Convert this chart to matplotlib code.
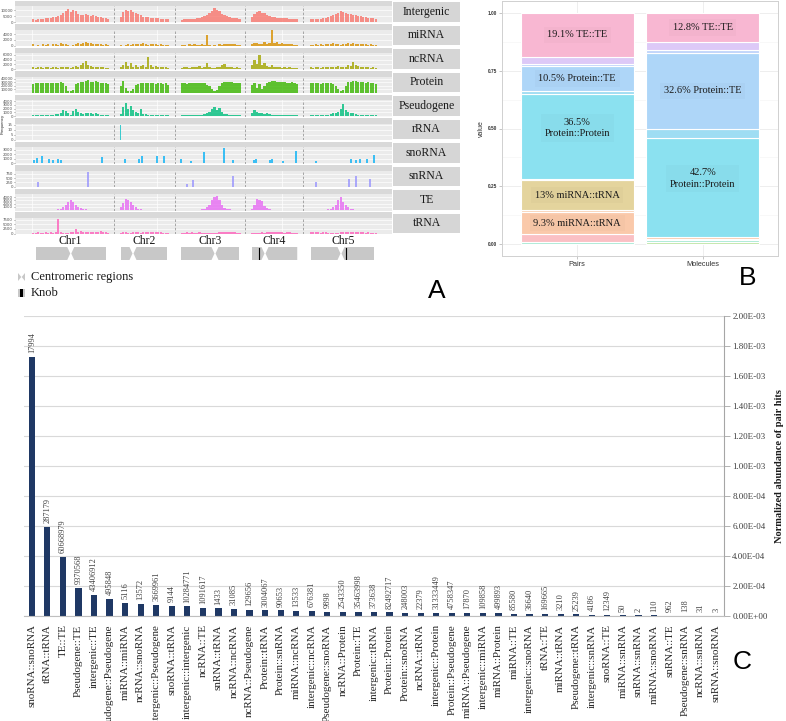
import matplotlib
matplotlib.use("Agg")
import matplotlib.pyplot as plt
from matplotlib.patches import Polygon, Rectangle
import numpy as np

W, H = 786, 721
SERIF = "Liberation Serif"
SANS = "Liberation Sans"

# ---------------- panel A data (1 Mb bins per chromosome) ----------------
chrom_names = ["Chr1", "Chr2", "Chr3", "Chr4", "Chr5"]
chrom_len = [30.4, 19.7, 23.5, 18.6, 27.0]
chrom_offset = [0, 35, 59.5, 87.5, 111]

intergenic = [
    [2200, 2000, 2400, 2600, 2500, 3000, 3200, 3500, 3800, 4500, 5000, 6000, 7500, 9500, 11000, 8500,
     10500, 9000, 7000, 6000, 5500, 6500, 6000, 5000, 5500, 5000, 4500, 4000, 3500, 3000, 2800],
    [4500, 8500, 10500, 9000, 10000, 8500, 7500, 6500, 5500, 4500, 4000, 3800, 3500, 3200, 3000, 3200,
     2800, 2600, 2500, 2200],
    [2000, 2200, 2500, 2400, 2600, 2800, 3000, 3500, 4000, 5000, 6000, 7500, 9000, 11500, 10500, 9500,
     7000, 6000, 5000, 4000, 3500, 3200, 3000, 2500],
    [4000, 6500, 8500, 9500, 8000, 7500, 6000, 5000, 4500, 4000, 3500, 3500, 3200, 3000, 3000, 2800,
     2600, 2500, 2200],
    [2500, 2200, 2500, 2800, 2600, 3000, 3500, 4000, 5000, 6000, 7000, 8000, 9500, 8500, 8000, 7000,
     6500, 6000, 5500, 5000, 5000, 4500, 4000, 3500, 3200, 3000, 2800],
]
mirna = [
    [600, 0, 300, 0, 400, 300, 500, 0, 400, 600, 300, 900, 500, 700, 200, 0, 300, 400, 800, 600, 900,
     1200, 800, 900, 600, 700, 400, 500, 300, 400, 200],
    [300, 0, 200, 600, 300, 500, 700, 400, 600, 800, 500, 300, 600, 400, 500, 300, 400, 200, 300, 200],
    [300, 200, 0, 400, 300, 500, 300, 200, 400, 300, 3800, 300, 0, 200, 0, 400, 300, 500, 700, 400, 600,
     500, 300, 200],
    [600, 800, 1000, 500, 700, 1200, 600, 900, 5500, 800, 1200, 700, 900, 600, 700, 500, 400, 300, 200],
    [300, 200, 400, 300, 500, 300, 400, 700, 500, 900, 600, 400, 300, 500, 700, 900, 600, 800, 700, 500,
     600, 400, 500, 300, 400, 300, 200],
]
ncrna = [
    [700, 600, 800, 700, 600, 700, 800, 600, 700, 800, 600, 700, 900, 800, 700, 600, 700, 1200, 900, 1500,
     2500, 3500, 1500, 1200, 800, 700, 900, 800, 700, 600, 500],
    [800, 1500, 3000, 1200, 2500, 900, 1500, 800, 1200, 1800, 1000, 5200, 1500, 900, 1200, 800, 1000, 800,
     700, 600],
    [600, 700, 800, 600, 1000, 700, 800, 1200, 600, 700, 2600, 800, 600, 500, 700, 800, 1500, 2000, 900,
     800, 700, 600, 700, 500],
    [1500, 3800, 2000, 6000, 1500, 2500, 1200, 900, 1500, 800, 700, 800, 600, 700, 600, 700, 600, 500, 600],
    [700, 600, 800, 700, 600, 900, 700, 800, 1000, 900, 800, 1200, 900, 800, 1000, 1500, 1200, 3000, 1800,
     1200, 900, 800, 700, 800, 600, 700, 500],
]
protein = [
    [25000, 26000, 27000, 26000, 27000, 26500, 28000, 27000, 26000, 27000, 28000, 29000, 26000, 18000, 5000,
     3000, 7000, 24000, 28000, 30000, 29000, 32000, 35000, 31000, 30000, 32000, 29000, 28000, 27000, 26000,
     25000],
    [18000, 33000, 14000, 5000, 3000, 9000, 22000, 25000, 27000, 26000, 28000, 27000, 26000, 27000, 25000,
     26000, 27000, 25000, 26000, 23000],
    [26000, 27000, 25000, 27000, 26000, 28000, 27000, 26000, 27000, 26000, 23000, 18000, 9000, 4000, 7000,
     18000, 27000, 29000, 31000, 30000, 29000, 27000, 28000, 26000],
    [22000, 27000, 12000, 24000, 9000, 18000, 27000, 31000, 33000, 32000, 30000, 29000, 31000, 30000, 28000,
     27000, 29000, 27000, 25000],
    [26000, 27000, 26000, 27000, 25000, 27000, 28000, 26000, 27000, 24000, 18000, 9000, 4000, 6000, 18000,
     29000, 31000, 33000, 32000, 30000, 31000, 29000, 28000, 29000, 27000, 26000, 24000],
]
pseudogene = [
    [200, 250, 300, 250, 300, 350, 300, 400, 350, 500, 600, 900, 1500, 1300, 700, 400, 1300, 1800, 1200,
     900, 600, 800, 900, 700, 600, 900, 500, 400, 350, 300, 250],
    [600, 2500, 3500, 2000, 2800, 1500, 1200, 800, 1800, 600, 500, 400, 400, 350, 300, 300, 250, 300, 250,
     200],
    [200, 250, 250, 300, 250, 300, 350, 300, 400, 500, 900, 1200, 1800, 2500, 1600, 2200, 1200, 600, 500,
     400, 350, 300, 250, 200],
    [900, 1500, 1200, 900, 700, 600, 800, 500, 400, 400, 350, 300, 300, 250, 300, 250, 200, 250, 200],
    [250, 200, 250, 300, 250, 300, 350, 400, 500, 700, 900, 1200, 2000, 3200, 1500, 1200, 900, 700, 500,
     400, 350, 300, 300, 250, 250, 200, 200],
]
te = [
    [50, 50, 50, 50, 50, 80, 80, 100, 100, 150, 200, 400, 800, 1500, 2500, 3200, 2600, 1500, 900, 500, 300,
     200, 150, 100, 100, 80, 80, 50, 50, 50, 50],
    [800, 2200, 3500, 3000, 2500, 1500, 800, 400, 200, 150, 100, 100, 80, 80, 50, 50, 50, 50, 50, 50],
    [50, 50, 50, 80, 80, 100, 100, 150, 200, 400, 800, 1500, 3000, 4000, 4500, 3000, 1500, 600, 300, 200,
     100, 80, 50, 50],
    [400, 1500, 3500, 3000, 2800, 1200, 600, 300, 150, 100, 100, 80, 80, 50, 50, 50, 50, 50, 50],
    [50, 50, 50, 80, 80, 100, 150, 200, 400, 800, 1500, 3000, 4000, 2500, 1500, 800, 400, 200, 150, 100, 80,
     50, 50, 50, 50, 50, 50],
]
trna = [
    [500, 300, 600, 400, 500, 700, 400, 600, 500, 800, 8000, 600, 500, 400, 300, 900, 700, 2500, 800, 1200,
     900, 700, 1000, 800, 1100, 900, 600, 1200, 800, 700, 500],
    [400, 800, 600, 300, 500, 600, 700, 900, 500, 600, 800, 700, 600, 1000, 700, 900, 600, 500, 400, 300],
    [500, 400, 600, 500, 700, 400, 500, 600, 400, 300, 500, 300, 200, 300, 500, 600, 900, 700, 800, 1100,
     600, 700, 500, 400],
    [300, 500, 300, 400, 600, 500, 900, 700, 1100, 800, 600, 700, 900, 500, 600, 700, 500, 400, 300],
    [900, 700, 800, 600, 500, 900, 600, 400, 300, 200, 300, 400, 600, 800, 1000, 700, 900, 600, 1100, 800,
     700, 600, 500, 800, 400, 300, 200],
]
# sparse tracks: (chromosome index, position Mb, count)
rrna_spikes = [(1, 0.3, 15)]
snorna_spikes = [(0, 0.8, 700), (0, 2.0, 1100), (0, 4.0, 1500), (0, 6.8, 900), (0, 8.4, 700),
                 (0, 10.4, 900), (0, 11.6, 600), (0, 28.0, 1300),
                 (1, 2.2, 900), (1, 7.8, 1000), (1, 9.0, 1500), (1, 15.0, 1600), (1, 17.8, 1500),
                 (2, 0.1, 1000), (2, 4.1, 400), (2, 9.3, 2400), (2, 17.3, 3300), (2, 20.9, 600),
                 (3, 1.3, 600), (3, 2.1, 900), (3, 7.7, 700), (3, 8.5, 1000), (3, 12.9, 500), (3, 18.1, 2700),
                 (4, 2.6, 400), (4, 16.6, 800), (4, 18.6, 600), (4, 20.2, 1000), (4, 23.0, 900), (4, 25.8, 1700)]
snrna_spikes = [(0, 2.4, 270), (0, 22.4, 880),
                (2, 2.5, 160), (2, 4.9, 380), (2, 20.9, 650),
                (4, 2.6, 270), (4, 15.8, 430), (4, 18.6, 650), (4, 24.2, 430)]

track_names = ["Intergenic", "miRNA", "ncRNA", "Protein", "Pseudogene", "rRNA", "snoRNA", "snRNA", "TE", "tRNA"]
track_data = [intergenic, mirna, ncrna, protein, pseudogene, rrna_spikes, snorna_spikes, snrna_spikes, te, trna]
track_colors = ["#F8766D", "#D89000", "#A3A500", "#39B600", "#00BF7D", "#00BFC4", "#00B0F6", "#9590FF",
                "#E76BF3", "#FF62BC"]
track_top = [13500, 5800, 6800, 46000, 4300, 16.5, 3600, 950, 5000, 8800]
track_ticks = [[0, 5000, 10000], [0, 2000, 4000], [0, 2000, 4000, 6000], [10000, 20000, 30000, 40000],
               [0, 1000, 2000, 3000, 4000], [0, 5, 10, 15], [0, 1000, 2000, 3000], [0, 250, 500, 750],
               [1000, 2000, 3000, 4000], [0, 2500, 5000, 7500]]

ideo_start = [1.6, 0.6, 0.1, 0.5, 0.6]
ideo_end = [29.6, 19.0, 23.3, 18.6, 25.8]
centromere = [15.5, 5.4, 13.7, 5.7, 12.6]
knob = [None, None, None, 3.3, 14.6]

# ---------------- panel B data ----------------
b_groups = ["Pairs", "Molecules"]
b_colors = ["#BCE5A3", "#A5E8D3", "#FAC0C4", "#FAC9AA", "#F9D2B5", "#E4D49D", "#D9E3A8", "#8BE1F0",
            "#9EDDF3", "#AED6F8", "#C0D4FA", "#DDC9F7", "#F8B7D2"]
b_pairs = [0.003, 0.007, 0.035, 0.093, 0.010, 0.130, 0.004, 0.365, 0.016, 0.105, 0.010, 0.031, 0.191]
b_molecules = [0.012, 0.008, 0.005, 0.006, 0.002, 0.0, 0.0, 0.427, 0.040, 0.326, 0.014, 0.032, 0.128]
b_pairs_labels = ["", "", "", "9.3% miRNA::tRNA", "", "13% miRNA::tRNA", "", "36.5%\nProtein::Protein", "",
                  "10.5% Protein::TE", "", "", "19.1% TE::TE"]
b_mol_labels = ["", "", "", "", "", "", "", "42.7%\nProtein::Protein", "", "32.6% Protein::TE", "", "",
                "12.8% TE::TE"]

# ---------------- panel C data ----------------
c_pairs = ["snoRNA::snoRNA", "tRNA::tRNA", "TE::TE", "Pseudogene::TE", "intergenic::TE",
           "Pseudogene::Pseudogene", "miRNA::miRNA", "ncRNA::snoRNA", "intergenic::Pseudogene", "snoRNA::tRNA",
           "intergenic::intergenic", "ncRNA::TE", "snRNA::tRNA", "ncRNA::ncRNA", "ncRNA::Pseudogene",
           "Protein::tRNA", "Protein::snRNA", "miRNA::ncRNA", "intergenic::ncRNA", "Pseudogene::snoRNA",
           "ncRNA::Protein", "Protein::TE", "intergenic::tRNA", "Protein::Protein", "Protein::snoRNA",
           "ncRNA::tRNA", "intergenic::Protein", "Protein::Pseudogene", "miRNA::Pseudogene", "intergenic::miRNA",
           "miRNA::Protein", "miRNA::TE", "intergenic::snoRNA", "tRNA::TE", "miRNA::tRNA", "Pseudogene::tRNA",
           "intergenic::snRNA", "snoRNA::TE", "miRNA::snRNA", "snRNA::snRNA", "miRNA::snoRNA", "snRNA::TE",
           "Pseudogene::snRNA", "ncRNA::snRNA", "snRNA::snoRNA"]
c_counts = ["17994", "287179", "60668979", "9370568", "43406912", "495848", "5116", "13572", "3669961", "9144",
            "10284771", "1091617", "1433", "31085", "129656", "3004067", "90653", "13533", "676381", "9898",
            "2543350", "35463998", "373638", "82492717", "248003", "22379", "31333449", "4758347", "17870",
            "109858", "499893", "85580", "36640", "169665", "3210", "25239", "4186", "12349", "50", "2", "110",
            "962", "138", "31", "3"]
c_abund = [1.73e-3, 5.93e-4, 3.93e-4, 1.85e-4, 1.40e-4, 1.13e-4, 8.7e-5, 8.0e-5, 7.3e-5, 6.9e-5, 6.4e-5,
           5.5e-5, 5.1e-5, 4.7e-5, 4.0e-5, 3.8e-5, 3.7e-5, 3.3e-5, 3.2e-5, 2.9e-5, 2.6e-5, 2.5e-5, 2.5e-5,
           2.4e-5, 2.3e-5, 2.2e-5, 2.2e-5, 2.1e-5, 2.0e-5, 2.0e-5, 1.9e-5, 1.6e-5, 1.5e-5, 1.4e-5, 1.2e-5,
           1.1e-5, 1.0e-5, 8e-6, 5e-6, 4e-6, 4e-6, 3e-6, 3e-6, 2e-6, 2e-6]


fig = plt.figure(figsize=(W / 100, H / 100), dpi=100)


def px_axes(x0, y0, x1, y1, **kw):
    return fig.add_axes([x0 / W, 1 - y1 / H, (x1 - x0) / W, (y1 - y0) / H], **kw)


# ---------------- panel A ----------------
XL = (-6.8, 144.0)
bounds = [(chrom_offset[i] + chrom_len[i] + chrom_offset[i + 1]) / 2 for i in range(4)]
row_pitch = 23.5
for k, name in enumerate(track_names):
    top = 0.5 + k * row_pitch
    strip = px_axes(15, top, 392, top + 5.5)
    strip.set_facecolor("#D9D9D9")
    strip.set_xticks([])
    strip.set_yticks([])
    for s in strip.spines.values():
        s.set_visible(False)

    ax = px_axes(15, top + 5.5, 392, top + 22.3)
    ax.set_facecolor("#EBEBEB")
    for s in ax.spines.values():
        s.set_visible(False)
    ax.set_xlim(*XL)
    ytop = track_top[k]
    ax.set_ylim(-0.05 * ytop, ytop)
    data = track_data[k]
    col = track_colors[k]
    if isinstance(data[0], tuple):
        xs = [chrom_offset[c] + p for c, p, h in data]
        hs = [h for c, p, h in data]
        ax.bar(xs, hs, width=0.45, color=col, alpha=0.75, linewidth=0, zorder=2)
    else:
        for c in range(5):
            vals = data[c]
            xs = chrom_offset[c] + np.arange(len(vals)) + 0.5
            ax.bar(xs, vals, width=0.95, color=col, alpha=0.8, linewidth=0, zorder=2)
    ax.set_yticks(track_ticks[k])
    ax.set_xticks([0, 50, 100])
    ax.set_xticklabels([])
    ax.grid(True, color="white", linewidth=0.5, zorder=0)
    ax.set_axisbelow(True)
    ax.tick_params(axis="y", labelsize=2.8, length=1, width=0.4, pad=0.5, colors="#4D4D4D")
    ax.tick_params(axis="x", length=0)
    for b in bounds:
        ax.axvline(b, color="#9A9A9A", linewidth=0.6, linestyle=(0, (3, 2)), zorder=3)

    # right strip label
    lab = px_axes(393, top + 1.5, 460, top + 21)
    lab.set_facecolor("#D6D6D6")
    lab.set_xticks([])
    lab.set_yticks([])
    for s in lab.spines.values():
        s.set_visible(False)
    lab.text(0.5, 0.5, name, ha="center", va="center", fontsize=8.5, family=SERIF, color="#1A1A1A",
             transform=lab.transAxes)

# chromosome ideograms
ideo = px_axes(15, 247, 392, 260)
ideo.set_xlim(*XL)
ideo.set_ylim(0, 1)
ideo.axis("off")
for c in range(5):
    o = chrom_offset[c]
    x0, x1, cm = o + ideo_start[c], o + ideo_end[c], o + centromere[c]
    left = [(x0, 0), (cm - 1.4, 0), (cm - 0.2, 0.5), (cm - 1.4, 1), (x0, 1)]
    right = [(cm + 0.2, 0.5), (cm + 1.4, 0), (x1, 0), (x1, 1), (cm + 1.4, 1)]
    ideo.add_patch(Polygon(left, closed=True, facecolor="#C8C8C8", edgecolor="none"))
    ideo.add_patch(Polygon(right, closed=True, facecolor="#C8C8C8", edgecolor="none"))
    if knob[c] is not None:
        ideo.add_patch(Rectangle((o + knob[c] - 0.45, 0), 0.9, 1, facecolor="black", edgecolor="white",
                                 linewidth=0.4))
    ideo.text(o + chrom_len[c] / 2, 1.5, chrom_names[c], ha="center", va="center", fontsize=8.5,
              family=SERIF, color="#1A1A1A")

# ---------------- panel B ----------------
axb = px_axes(502, 1, 778, 256)
axb.set_xlim(0.4, 2.6)
axb.set_ylim(-0.05, 1.05)
for gi, (vals, labs) in enumerate([(b_pairs, b_pairs_labels), (b_molecules, b_mol_labels)]):
    bottom = 0.0
    for j, v in enumerate(vals):
        if v > 0:
            axb.bar(gi + 1, v, bottom=bottom, width=0.9, color=b_colors[j], edgecolor="white",
                    linewidth=0.8, zorder=2)
        if labs[j]:
            yy = bottom + v / 2 + (0.038 if "\n" in labs[j] else 0)
            axb.text(gi + 1, yy, labs[j], ha="center", va="center", fontsize=7.5, family=SERIF,
                     color="#1A1A1A", zorder=3, linespacing=1.3,
                     bbox=dict(boxstyle="square,pad=0.35", facecolor="black", alpha=0.02, edgecolor="none"))
        bottom += v
axb.set_xticks([1, 2])
axb.set_xticklabels(b_groups, fontsize=5.3, family=SANS, color="#333333")
axb.set_yticks([0, 0.25, 0.5, 0.75, 1.0])
axb.set_yticklabels(["0.00", "0.25", "0.50", "0.75", "1.00"], fontsize=3.4, family=SANS, color="#333333",
                    fontweight="bold")
axb.set_yticks([0.125, 0.375, 0.625, 0.875], minor=True)
axb.tick_params(axis="both", which="major", length=2, width=0.4, color="#999999", pad=1.5)
axb.tick_params(axis="y", which="minor", length=0)
axb.grid(True, which="major", color="#EBEBEB", linewidth=0.6, zorder=0)
axb.grid(True, which="minor", axis="y", color="#F4F4F4", linewidth=0.4, zorder=0)
axb.set_axisbelow(True)
for s in axb.spines.values():
    s.set_color("#D0D0D0")
    s.set_linewidth(0.7)
axb.set_ylabel("value", fontsize=5, family=SANS, color="#333333", labelpad=2)

# ---------------- panel C ----------------
axc = px_axes(24, 316, 724, 616)
xc = np.arange(len(c_pairs))
axc.bar(xc, c_abund, width=0.4, color="#1F3864", zorder=2)
for i, (h, t) in enumerate(zip(c_abund, c_counts)):
    axc.text(i, h + 2.5e-5, t, rotation=90, ha="center", va="bottom", fontsize=6, family=SERIF,
             color="#404040", zorder=3)
axc.set_xlim(-0.5, len(c_pairs) - 0.5)
axc.set_ylim(0, 2.0e-3)
axc.set_xticks(xc)
axc.set_xticklabels(c_pairs, rotation=90, fontsize=7.9, family=SERIF, color="#262626")
axc.tick_params(axis="x", length=0, pad=6)
yt = np.arange(0, 2.01e-3, 2e-4)
axc.set_yticks(yt)
axc.set_yticklabels(["{:.2E}".format(v) for v in yt], fontsize=6.5, family=SERIF, color="#404040")
axc.yaxis.tick_right()
axc.tick_params(axis="y", length=4, width=0.6, color="#A6A6A6", pad=2)
axc.yaxis.grid(True, color="#D9D9D9", linewidth=0.8, zorder=0)
axc.set_axisbelow(True)
for side in ["left", "top"]:
    axc.spines[side].set_visible(False)
axc.spines["right"].set_color("#A6A6A6")
axc.spines["bottom"].set_color("#BFBFBF")

# ---------------- overlay: legend, letters, labels ----------------
ov = fig.add_axes([0, 0, 1, 1], facecolor="none")
ov.set_xlim(0, W)
ov.set_ylim(H, 0)
ov.axis("off")
ov.add_patch(Polygon([(18, 273), (18, 281), (21.3, 277)], closed=True, facecolor="#C8C8C8", edgecolor="none"))
ov.add_patch(Polygon([(25, 273), (25, 281), (21.7, 277)], closed=True, facecolor="#C8C8C8", edgecolor="none"))
ov.text(31, 277, "Centromeric regions", ha="left", va="center", fontsize=9, family=SERIF, color="#1A1A1A")
ov.add_patch(Rectangle((18, 289), 7, 8, facecolor="#C8C8C8", edgecolor="none"))
ov.add_patch(Rectangle((20.3, 289), 2.4, 8, facecolor="black", edgecolor="none"))
ov.text(31, 293, "Knob", ha="left", va="center", fontsize=9, family=SERIF, color="#1A1A1A")
ov.text(3, 124, "Frequency", rotation=90, ha="center", va="center", fontsize=3.2, family=SANS, color="#333333")
ov.text(437, 291, "A", ha="center", va="center", fontsize=19, family=SANS)
ov.text(748, 278, "B", ha="center", va="center", fontsize=19, family=SANS)
ov.text(742, 662, "C", ha="center", va="center", fontsize=19, family=SANS)
ov.text(780, 466, "Normalized abundance of pair hits", rotation=90, ha="center", va="center", fontsize=7.5,
        family=SERIF, fontweight="bold", color="#1A1A1A")

fig.savefig("out.png", dpi=100)
